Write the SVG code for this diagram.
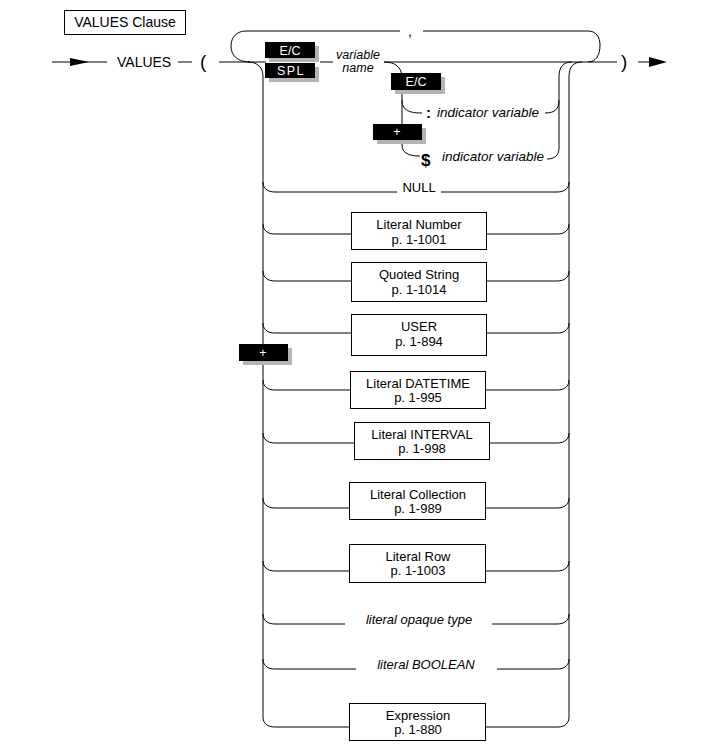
<svg xmlns="http://www.w3.org/2000/svg" width="716" height="754" viewBox="0 0 716 754">
<style>
.ln{fill:none;stroke:#000;stroke-width:1}
.t{font-family:"Liberation Sans",Arial,sans-serif;font-size:13px;fill:#000}
.c{text-anchor:middle}
.i{font-style:italic}
.box{fill:#fff;stroke:#000;stroke-width:1}
.blk{fill:#000}
.sh{fill:#b4b4b4}
.w{font-family:"Liberation Sans",Arial,sans-serif;font-size:12.5px;fill:#fff;text-anchor:middle}
</style>
<rect width="716" height="754" fill="#fff"/>
<g id="connectors">
  <path class="ln" d="M52,62 H107"/>
  <polygon points="70,58 89,62 70,66" fill="#000"/>
  <path class="ln" d="M178,62 H192"/>
  <path class="ln" d="M219,62 H266"/>
  <path class="ln" d="M320,62 H333"/>
  <path class="ln" d="M384,62 H617"/>
  <path class="ln" d="M638,62 H650"/>
  <polygon points="649,57 667,62 649,67" fill="#000"/>
  <path class="ln" d="M250,62 C237,62 231,55 231,46 C231,37 237,31 246,31 H400"/>
  <path class="ln" d="M423,31 H588 C596,31 600,37 600,45 C600,55 596,62 588,62"/>
  <path class="ln" d="M248,62 C257,62 263,67 263,77 V717 C263,723 267,727 275,727 H349"/>
  <path class="ln" d="M582,62 C573,62 569,67 569,77 V717 C569,723 565,727 558,727 H486"/>
  <path class="ln" d="M572,62 C563,62 559,67 559,77 V148 C559,155 555,159 547,159"/>
  <path class="ln" d="M384,62 C395,62 402,67 402,78 V145 C402,152 407,156 420,156"/>
  <path class="ln" d="M402,100 C402,109 407,113 422,113"/>
  <path class="ln" d="M559,100 C559,109 555,113 545,113"/>
  <path class="ln" d="M263,182 C263,188 267,192 275,192 H397"/>
  <path class="ln" d="M441,192 H557 C565,192 569,188 569,182"/>
  <path class="ln" d="M263,224 C263,230 267,234 275,234 H351"/>
  <path class="ln" d="M487,234 H557 C565,234 569,230 569,224"/>
  <path class="ln" d="M263,271 C263,277 267,281 275,281 H351"/>
  <path class="ln" d="M487,281 H557 C565,281 569,277 569,271"/>
  <path class="ln" d="M263,323 C263,329 267,333 275,333 H351"/>
  <path class="ln" d="M487,333 H557 C565,333 569,329 569,323"/>
  <path class="ln" d="M263,380 C263,386 267,390 275,390 H350"/>
  <path class="ln" d="M486,390 H557 C565,390 569,386 569,380"/>
  <path class="ln" d="M263,433 C263,439 267,443 275,443 H354"/>
  <path class="ln" d="M490,443 H557 C565,443 569,439 569,433"/>
  <path class="ln" d="M263,498 C263,504 267,508 275,508 H349"/>
  <path class="ln" d="M486,508 H557 C565,508 569,504 569,498"/>
  <path class="ln" d="M263,561 C263,567 267,571 275,571 H349"/>
  <path class="ln" d="M486,571 H557 C565,571 569,567 569,561"/>
  <path class="ln" d="M263,614 C263,620 267,624 275,624 H345"/>
  <path class="ln" d="M492,624 H557 C565,624 569,620 569,614"/>
  <path class="ln" d="M263,659 C263,665 267,669 275,669 H356"/>
  <path class="ln" d="M497,669 H557 C565,669 569,665 569,659"/>
</g>
<g id="title">
  <rect class="box" x="64.5" y="10.5" width="121" height="24"/>
  <text class="t c" x="125" y="27" style="font-size:14px">VALUES Clause</text>
</g>
<g id="values-kw"><text class="t" x="117" y="67" style="font-size:14px">VALUES</text></g>
<g id="lparen"><text class="t" x="200" y="68" style="font-size:19px">(</text></g>
<g id="rparen"><text class="t" x="621" y="68" style="font-size:19px">)</text></g>
<g id="comma"><text class="t" x="408" y="36" style="font-size:14px">,</text></g>
<g id="ec1">
  <rect class="sh" x="269" y="46" width="50" height="16"/>
  <rect class="blk" x="265" y="42" width="50" height="16"/>
  <text class="w" x="290" y="55">E/C</text>
</g>
<g id="spl">
  <rect class="sh" x="269" y="67" width="50" height="15"/>
  <rect class="blk" x="265" y="63" width="50" height="15"/>
  <text class="w" x="291" y="75" style="letter-spacing:1.5px">SPL</text>
</g>
<g id="variable-name">
  <text class="t c i" x="358" y="59" style="font-size:12.5px">variable</text>
  <text class="t c i" x="358" y="72" style="font-size:12.5px">name</text>
</g>
<g id="ec2">
  <rect class="sh" x="395" y="77" width="50" height="17"/>
  <rect class="blk" x="391" y="73" width="50" height="17"/>
  <text class="w" x="416" y="86">E/C</text>
</g>
<g id="plus1">
  <rect class="sh" x="377" y="128" width="49" height="16"/>
  <rect class="blk" x="373" y="124" width="49" height="16"/>
  <text class="w" x="397" y="136">+</text>
</g>
<g id="ind-colon">
  <text class="t" x="426" y="118" style="font-weight:bold;font-size:15px">:</text>
  <text class="t i" x="437" y="117" style="font-size:13.5px">indicator variable</text>
</g>
<g id="ind-dollar">
  <text class="t" x="421" y="166" style="font-weight:bold;font-size:17px">$</text>
  <text class="t i" x="442" y="161" style="font-size:13.5px">indicator variable</text>
</g>
<g id="null"><text class="t c" x="419" y="192">NULL</text></g>
<g id="lit-number">
  <rect class="box" x="351.5" y="212.5" width="135" height="37"/>
  <text class="t c" x="419" y="229">Literal Number</text>
  <text class="t c" x="419" y="244">p. 1-1001</text>
</g>
<g id="quoted-string">
  <rect class="box" x="351.5" y="262.5" width="135" height="39"/>
  <text class="t c" x="419" y="279">Quoted String</text>
  <text class="t c" x="419" y="294">p. 1-1014</text>
</g>
<g id="user">
  <rect class="box" x="351.5" y="314.5" width="135" height="41"/>
  <text class="t c" x="419" y="331">USER</text>
  <text class="t c" x="419" y="346">p. 1-894</text>
</g>
<g id="plus2">
  <rect class="sh" x="243" y="348" width="49" height="17"/>
  <rect class="blk" x="239" y="344" width="49" height="17"/>
  <text class="w" x="263" y="357">+</text>
</g>
<g id="lit-datetime">
  <rect class="box" x="350.5" y="371.5" width="135" height="37"/>
  <text class="t c" x="418" y="388">Literal DATETIME</text>
  <text class="t c" x="418" y="402">p. 1-995</text>
</g>
<g id="lit-interval">
  <rect class="box" x="354.5" y="422.5" width="135" height="37"/>
  <text class="t c" x="422" y="439">Literal INTERVAL</text>
  <text class="t c" x="422" y="453">p. 1-998</text>
</g>
<g id="lit-collection">
  <rect class="box" x="349.5" y="482.5" width="136" height="37"/>
  <text class="t c" x="418" y="499">Literal Collection</text>
  <text class="t c" x="418" y="513">p. 1-989</text>
</g>
<g id="lit-row">
  <rect class="box" x="349.5" y="544.5" width="136" height="38"/>
  <text class="t c" x="418" y="561">Literal Row</text>
  <text class="t c" x="418" y="575">p. 1-1003</text>
</g>
<g id="lit-opaque"><text class="t c i" x="419" y="624">literal opaque type</text></g>
<g id="lit-boolean"><text class="t c i" x="426" y="669">literal BOOLEAN</text></g>
<g id="expression">
  <rect class="box" x="349.5" y="703.5" width="136" height="37"/>
  <text class="t c" x="418" y="720">Expression</text>
  <text class="t c" x="418" y="734">p. 1-880</text>
</g>
</svg>
